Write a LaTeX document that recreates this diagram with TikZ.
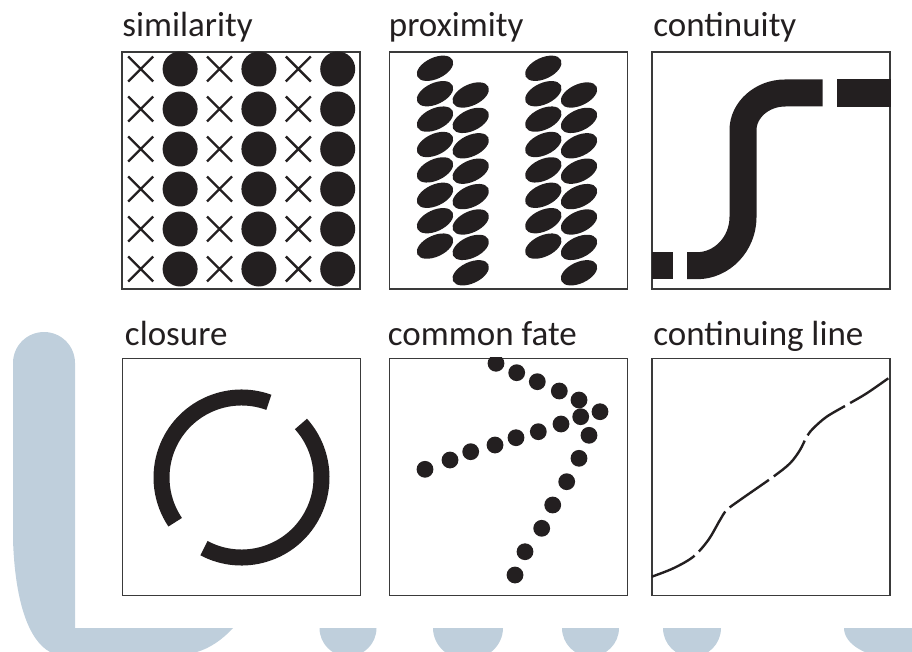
\documentclass[tikz,border=0pt]{standalone}
\usepackage{fontspec}
\setmainfont{Carlito}
\usetikzlibrary{positioning}

\definecolor{inkc}{HTML}{231F20}
\definecolor{framec}{HTML}{3A3A3A}
\definecolor{wmc}{HTML}{BFCFDC}

\begin{document}
\begin{tikzpicture}[
    x=1pt, y=1pt,
    every node/.style={font=\fontsize{35}{40}\selectfont, text=inkc},
    panel/.style={draw=framec, line width=1.5pt, inner sep=0pt,
                  minimum width=238pt, minimum height=237pt},
    lbl/.style={inner sep=0pt, anchor=base west},
    ink/.style={fill=inkc},
    xmark/.style={draw=inkc, line width=2.4pt},
    band/.style={draw=inkc, line width=27pt},
    wm/.style={fill=wmc}
  ]
  \useasboundingbox (0,0) rectangle (912,-652);

  % watermark behind the panels
  \fill[wm] (13,-363) arc[start angle=180, end angle=0, radius=31] -- (75,-628)
    -- (233,-628) .. controls (222,-640) and (210,-648) .. (197,-652)
    -- (50,-652) .. controls (28,-640) and (15,-600) .. (13,-540) -- cycle;
  \foreach \cx/\rx/\ry in {348/28.5/28.5, 468/35/32, 590.5/28.5/28.5,
                           692/29/29, 896/52/30}
    \fill[wm] (\cx,-628) ++(-\rx,0)
      arc[start angle=180, end angle=360, x radius=\rx, y radius=\ry] -- cycle;

  \node[panel] (simbox)  at (241,-170.5)   {};
  \node[panel] (proxbox) at (508.5,-170.5) {};
  \node[panel] (contbox) at (771,-170.5)   {};
  \node[panel] (closbox) at (241.5,-477)   {};
  \node[panel] (fatebox) at (508.5,-477)   {};
  \node[panel] (linebox) at (771,-477)     {};

  \node[lbl, above right=15pt and 1pt of simbox.north west, anchor=base west]  (simtxt)  {similarity};
  \node[lbl, above right=15pt and 0pt of proxbox.north west, anchor=base west] (proxtxt) {proximity};
  \node[lbl, above right=15pt and 2pt of contbox.north west, anchor=base west] (conttxt) {continuity};
  \node[lbl, above right=12pt and 3pt of closbox.north west, anchor=base west] (clostxt) {closure};
  \node[lbl, above right=12pt and -1pt of fatebox.north west, anchor=base west] (fatetxt) {common fate};
  \node[lbl, above right=12pt and 2pt of linebox.north west, anchor=base west] (linetxt) {continuing line};

  % similarity
  \foreach \c in {0,2,4}{
    \foreach \r in {0,...,5}{
      \draw[xmark] ({140.7+39.4*\c},{-69-40*\r}) +(-12.5,-12.5) -- +(12.5,12.5)
                                                 +(-12.5,12.5) -- +(12.5,-12.5);
      \fill[ink] ({180.1+39.4*\c},{-69-40*\r}) circle[radius=17.5];
    }
  }

  % proximity
  \foreach \k in {0,...,7}{
    \foreach \px in {435,543.3}
      \fill[ink, shift={(\px,{-68.3-25.4*\k})}, rotate=25] (0,0) ellipse[x radius=19.5, y radius=10.6];
    \foreach \px in {470.7,579}
      \fill[ink, shift={(\px,{-95-25.4*\k})}, rotate=25] (0,0) ellipse[x radius=19.5, y radius=10.6];
  }

  % continuity
  \fill[ink] (652,-252) rectangle (672.7,-279);
  \fill[ink] (837,-79.3) rectangle (891,-106.7);
  \draw[band] (687,-265.7) -- (697,-265.7) .. controls (722,-265.7) and (743,-244) .. (743,-217)
    -- (743,-130) .. controls (743,-110) and (762,-93) .. (785,-93) -- (822.7,-93);

  % closure
  \coordinate (ring) at (241.5,-477.5);
  \draw[inkc, line width=16pt] (ring) ++(70:80) arc[start angle=70, end angle=214, radius=80];
  \draw[inkc, line width=16pt] (ring) ++(242:80) arc[start angle=242, end angle=402, radius=80];

  % common fate
  \begin{scope}
    \clip (fatebox.south west) rectangle (fatebox.north east);
    \foreach \x/\y in {496/363.3, 516.7/372.7, 537.3/381.7, 559.3/391, 579/400,
                       600/411.7,
                       425/469.3, 450/460, 470.7/451.7, 495/445, 516/437.7,
                       538.3/431.7, 561/424, 580.7/416.7,
                       589/435.3, 579/458.3, 566.7/481.7, 552.7/505, 541.7/528.3,
                       525/551.7, 515/575}
      \fill[ink] (\x,-\y) circle[radius=8.4];
  \end{scope}

  % continuing line
  \draw[inkc, line width=2.4pt, dash pattern=on 48pt off 6pt]
    plot[smooth, tension=0.55] coordinates {(651.7,-576.7) (673.3,-568.3) (693.3,-556.7)
      (708.3,-540) (720,-520) (726.7,-510) (740,-500) (773.3,-476.7) (790,-463.3)
      (800,-450) (806.7,-436.7) (813.3,-428.3) (826.7,-416.7) (846.7,-405)
      (866.7,-393.3) (888.3,-378.3)};
\end{tikzpicture}
\end{document}
